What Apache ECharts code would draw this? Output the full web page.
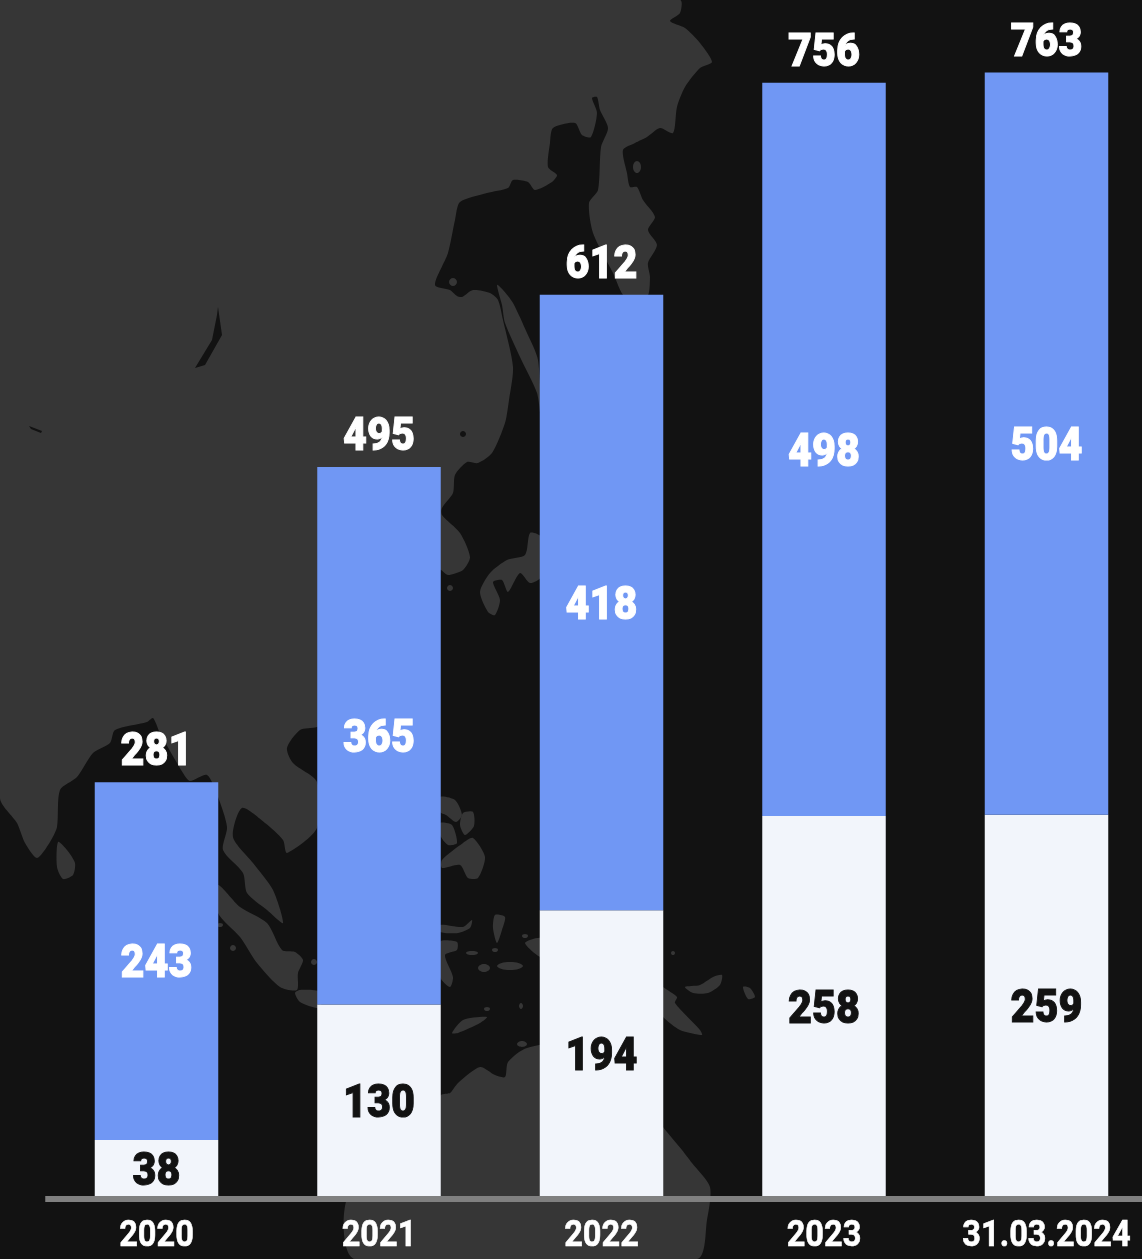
<!DOCTYPE html>
<html><head><meta charset="utf-8">
<script src="https://cdn.jsdelivr.net/npm/echarts@6/dist/echarts.min.js"></script>
<style>html,body{margin:0;padding:0;background:#121212}#c{width:1142px;height:1259px}</style>
</head><body><div id="c"></div>
<script>
const categories = ['2020','2021','2022','2023','31.03.2024'];
const whiteValues = [38,130,194,258,259];
const blueValues = [243,365,418,498,504];
const totals = [281,495,612,756,763];

const LAND = '#363636', SEA = '#121212', BLUE = '#7097f4', WHITE = '#f2f5fb', FONT = 'Roboto';

// Decorative backdrop map (not chart data)
const landShapes = [
 [[0,0],[680,0],[680,13],[670,21],[685,28],[700,43],[712,62],[700,68],[685,87],[677,107],[673,133],[660,128],[647,137],[635,143],[623,150],[627,173],[630,187],[637,187],[643,200],[655,217],[648,230],[657,245],[648,263],[650,277],[647,297],[625,297],[613,273],[593,233],[589,203],[598,190],[601,147],[608,128],[600,110],[597,97],[592,98],[597,113],[591,137],[582,135],[575,123],[553,128],[550,143],[548,167],[557,175],[552,182],[535,190],[528,182],[513,180],[508,188],[487,193],[460,202],[455,220],[448,253],[435,285],[450,290],[457,296],[462,297],[473,290],[490,293],[498,300],[503,320],[513,367],[509,400],[505,423],[492,453],[478,463],[467,462],[455,475],[453,493],[442,508],[442,515],[460,533],[470,557],[463,570],[448,575],[440,570],[430,640],[400,700],[330,720],[317,727],[300,730],[287,748],[293,763],[317,782],[317,828],[287,853],[283,840],[265,823],[242,808],[233,837],[253,863],[273,890],[283,923],[267,910],[247,893],[243,873],[223,850],[227,827],[218,797],[207,775],[190,781],[183,773],[160,733],[153,718],[147,722],[115,730],[110,743],[93,753],[77,777],[60,790],[57,827],[50,842],[37,858],[25,843],[17,823],[0,798]],
 [[497,285],[503,290],[513,303],[527,333],[538,360],[541,420],[537,393],[520,357],[505,323],[502,305]],
 [[480,592],[490,573],[507,560],[525,555],[530,533],[541,537],[541,577],[530,583],[520,573],[508,592],[502,580],[493,582],[500,600],[495,615],[488,612]],
 [[442,860],[463,843],[473,838],[485,857],[478,878],[468,878],[460,865],[442,868]],
 [[463,813],[473,812],[474,826],[465,835],[460,825]],
 [[440,797],[455,800],[462,815],[456,822],[446,815],[440,812]],
 [[440,823],[452,825],[457,843],[448,845],[440,835]],
 [[440,925],[463,927],[472,920],[470,928],[458,933],[440,932]],
 [[440,942],[457,942],[457,950],[445,955],[453,977],[450,987],[440,977]],
 [[495,915],[505,917],[502,930],[497,943],[493,928]],
 [[525,943],[541,938],[541,957]],
 [[452,1033],[463,1020],[487,1017],[480,1023],[458,1033]],
 [[348,1196],[441,1095],[450,1093],[458,1083],[480,1067],[495,1075],[505,1077],[508,1062],[527,1048],[600,1040],[663,1127],[682,1150],[692,1163],[710,1187],[707,1220],[697,1259],[355,1259]],
 [[655,980],[663,987],[677,997],[675,1003],[700,1030],[702,1035],[680,1030],[663,1017],[655,1005]],
 [[685,987],[700,985],[713,977],[722,975],[720,985],[708,993],[693,993]],
 [[743,987],[750,988],[755,997],[748,999]],
 [[58,842],[67,850],[75,863],[73,875],[63,879],[57,867]],
 [[218,885],[240,907],[267,923],[282,950],[295,952],[303,960],[298,973],[297,990],[280,987],[257,963],[240,937],[218,913]],
 [[295,993],[300,990],[320,992],[320,1008],[300,1002]]
];
const landBlobs = [[450,588,3,3],[484,968,6,4],[510,966,13,4],[472,953,6,2],[495,950,3,2],[220,925,3,2],[233,948,3,3],[314,962,3,3],[637,167,4,6],[453,282,4,4],[525,936,3,2],[487,1009,3,2],[521,1006,2,3],[522,1044,5,3],[673,953,2,2]];
const seaShapes = [
 [[218,307],[222,335],[205,365],[195,368],[212,340],[217,315]],
 [[29,426],[42,431],[41,433],[31,429]]
];
const seaBlobs = [[463,434,3,3]];

const blob = (b) => { const k=0.7; return [[b[0]-b[2],b[1]],[b[0]-k*b[2],b[1]-k*b[3]],[b[0],b[1]-b[3]],[b[0]+k*b[2],b[1]-k*b[3]],[b[0]+b[2],b[1]],[b[0]+k*b[2],b[1]+k*b[3]],[b[0],b[1]+b[3]],[b[0]-k*b[2],b[1]+k*b[3]]]; };
const backdrop = [];
landShapes.forEach(p => backdrop.push({type:'polygon',z:0,silent:true,shape:{points:p,smooth:0.25},style:{fill:LAND}}));
landBlobs.forEach(b => backdrop.push({type:'polygon',z:0,silent:true,shape:{points:blob(b),smooth:0.4},style:{fill:LAND}}));
seaShapes.forEach(p => backdrop.push({type:'polygon',z:0,silent:true,shape:{points:p},style:{fill:SEA}}));
seaBlobs.forEach(b => backdrop.push({type:'polygon',z:0,silent:true,shape:{points:blob(b),smooth:0.4},style:{fill:SEA}}));

// Text series: anchored through the chart's own axes, condensed horizontally
function textSeries(name, rows, opt){
  return {
    type:'custom', name, clip:false, z:6, silent:true,
    encode:{x:0,y:1},
    data:rows,
    renderItem:(params, api)=>{
      const p = api.coord([api.value(0), api.value(1)]);
      return {type:'text', x:p[0], y:p[1]+opt.dy, scaleX:opt.scaleX,
        style:{text:opt.text(params.dataIndex), fill:opt.color, stroke:opt.color, lineWidth:opt.stroke,
          font:`${opt.weight} ${opt.size}px ${FONT}`, textAlign:'center', textVerticalAlign:'middle'}};
    }
  };
}
const idx = categories.map((_,i)=>i);
const NUM = {weight:900,size:47,scaleX:0.88,stroke:1};

const chart = echarts.init(document.getElementById('c'), null, {renderer:'canvas'});
chart.setOption({
  animation:false,
  backgroundColor:SEA,
  graphic:{elements:backdrop},
  grid:{left:45.25,width:1112.5,top:72.5,height:1123.5,containLabel:false,outerBoundsMode:'none'},
  xAxis:{
    type:'category', data:categories, offset:3, z:5,
    axisLine:{show:true,onZero:false,lineStyle:{color:'#808080',width:6,cap:'butt'}},
    axisTick:{show:false},
    axisLabel:{show:false}
  },
  yAxis:{type:'value',min:0,max:763,show:false,splitLine:{show:false}},
  series:[
    {type:'bar',name:'white',stack:'t',barWidth:123.5,data:whiteValues,itemStyle:{color:WHITE}},
    {type:'bar',name:'blue',stack:'t',barWidth:123.5,data:blueValues,itemStyle:{color:BLUE}},
    textSeries('whiteLabels', idx.map(i=>[i,whiteValues[i]/2]), {...NUM,dy:5,color:'#121212',text:i=>String(whiteValues[i])}),
    textSeries('blueLabels', idx.map(i=>[i,whiteValues[i]+blueValues[i]/2]), {...NUM,dy:4.5,color:'#ffffff',text:i=>String(blueValues[i])}),
    textSeries('totalLabels', idx.map(i=>[i,totals[i]]), {...NUM,color:'#ffffff',dy:-28.5,text:i=>String(totals[i])}),
    textSeries('categoryLabels', idx.map(i=>[i,0]), {weight:700,size:37,scaleX:0.88,stroke:0.6,color:'#ffffff',dy:41,text:i=>categories[i]})
  ]
});
</script></body></html>
